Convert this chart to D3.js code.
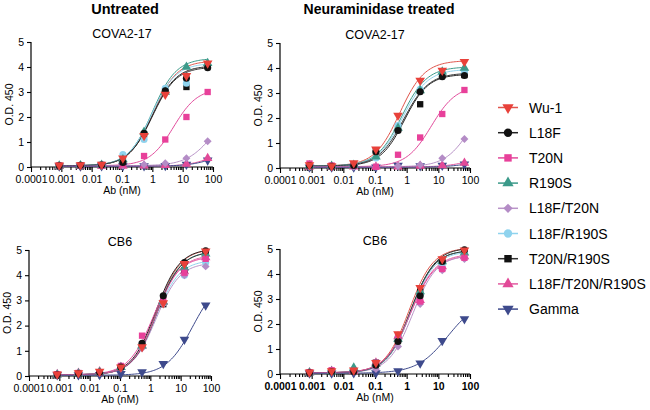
<!DOCTYPE html>
<html><head><meta charset="utf-8">
<script src="https://cdn.jsdelivr.net/npm/d3@7"></script>
<style>body{margin:0;background:#fff} svg{font-family:"Liberation Sans",Arial,sans-serif}</style>
</head><body><svg id="c" width="650" height="410"></svg>
<script>
// ---------- data ----------
const concentrations = [0.000853, 0.00427, 0.0213, 0.107, 0.533, 2.67, 13.3, 66.7];
const seriesNames = ["Wu-1","L18F","T20N","R190S","L18F/T20N","L18F/R190S","T20N/R190S","L18F/T20N/R190S","Gamma"];
const groupTitles = ["Untreated","Neuraminidase treated"];
const antibodyTitles = ["COVA2-17","CB6"];
const xTickValues = [0.0001,0.001,0.01,0.1,1,10,100];
const xTickLabels = ["0.0001","0.001","0.01","0.1","1","10","100"];
const yTickValues = [0,1,2,3,4,5];
const xAxisTitle = "Ab (nM)";
const yAxisTitle = "O.D. 450";

// O.D. 450 readings, one row per series (order of seriesNames)
const odCovaUntreated = [
  [0.07,0.08,0.10,0.35,1.25,2.90,3.65,4.15],
  [0.05,0.07,0.08,0.18,1.35,3.05,3.55,3.97],
  [0.06,0.07,0.08,0.10,0.44,1.10,2.00,3.00],
  [0.05,0.06,0.08,0.30,1.40,3.00,4.00,4.15],
  [0.04,0.05,0.05,0.06,0.10,0.15,0.35,1.03],
  [0.05,0.06,0.10,0.50,1.10,3.15,3.35,4.10],
  [0.05,0.06,0.08,0.25,1.30,3.05,3.20,4.05],
  [0.03,0.04,0.04,0.04,0.05,0.07,0.12,0.35],
  [0.03,0.03,0.04,0.04,0.04,0.05,0.10,0.27]
];
const odCovaNeuraminidase = [
  [0.12,0.08,0.20,0.75,2.10,3.50,3.90,4.25],
  [0.10,0.07,0.10,0.65,1.50,3.05,3.65,3.70],
  [0.18,0.10,0.10,0.05,0.53,1.22,2.16,3.12],
  [0.10,0.08,0.12,0.45,1.60,3.10,3.85,4.00],
  [0.05,0.05,0.05,0.05,0.08,0.13,0.39,1.16],
  [0.10,0.07,0.12,0.40,1.70,3.15,3.80,3.85],
  [0.08,0.06,0.10,0.70,1.55,2.55,3.72,3.72],
  [0.05,0.05,0.05,0.05,0.05,0.08,0.10,0.20],
  [0.03,0.03,0.03,0.03,0.10,0.08,0.10,0.15]
];
const odCb6Untreated = [
  [0.07,0.12,0.18,0.35,1.15,2.90,4.45,4.95],
  [0.05,0.10,0.15,0.35,1.30,3.18,4.50,4.97],
  [0.07,0.12,0.15,0.40,1.60,3.00,4.10,4.65],
  [0.05,0.10,0.15,0.35,1.20,2.95,4.30,4.85],
  [0.05,0.10,0.12,0.30,1.10,2.85,4.00,4.35],
  [0.05,0.10,0.15,0.35,1.20,2.90,4.00,4.50],
  [0.05,0.10,0.15,0.35,1.20,2.85,4.20,4.85],
  [0.07,0.12,0.18,0.35,1.20,2.95,4.15,4.70],
  [0.04,0.04,0.05,0.09,0.16,0.49,1.45,2.81]
];
const odCb6Neuraminidase = [
  [0.07,0.12,0.15,0.45,1.60,3.45,4.60,4.95],
  [0.05,0.10,0.10,0.35,1.30,3.13,4.50,4.97],
  [0.07,0.15,0.12,0.45,1.55,2.90,4.20,4.65],
  [0.05,0.10,0.25,0.40,1.40,3.30,4.50,4.85],
  [0.05,0.08,0.10,0.20,1.10,2.80,4.15,4.60],
  [0.05,0.10,0.12,0.40,1.35,3.20,4.40,4.80],
  [0.05,0.10,0.12,0.45,1.40,3.30,4.50,4.90],
  [0.06,0.12,0.12,0.45,1.50,2.95,4.30,4.70],
  [0.03,0.03,0.04,0.04,0.12,0.43,1.33,2.20]
];

// fitted 4-parameter logistic curves: [bottom, top, EC50 (nM), hill]
const fitCovaUntreated = [
  [0.05,4.25,1.05,1.1],[0.05,4.05,1.0,1.1],[0.05,3.15,5,1.1],[0.05,4.35,1.0,1.1],
  [0.05,2.5,100,1.0],[0.05,4.15,0.95,1.1],[0.05,4.0,1.0,1.1],[0.03,1.0,150,1.0],[0.03,0.8,150,1.0]
];
const fitCovaNeuraminidase = [
  [0.08,4.3,0.6,1.1],[0.08,3.75,0.85,1.15],[0.05,3.3,6,1.1],[0.08,4.05,0.7,1.1],
  [0.05,3.0,100,1.1],[0.08,3.95,0.75,1.1],[0.08,3.8,0.8,1.1],[0.04,0.8,200,1.0],[0.03,0.5,200,1.0]
];
const fitCb6Untreated = [
  [0.05,5.05,1.6,1.1],[0.05,5.05,1.5,1.1],[0.05,4.75,1.3,1.05],[0.05,4.95,1.6,1.1],
  [0.05,4.5,1.55,1.1],[0.05,4.6,1.5,1.1],[0.05,4.95,1.65,1.1],[0.05,4.8,1.55,1.1],[0.03,3.9,25,1.0]
];
const fitCb6Neuraminidase = [
  [0.05,5.05,1.2,1.15],[0.05,5.05,1.4,1.15],[0.05,4.75,1.3,1.1],[0.05,4.95,1.3,1.15],
  [0.05,4.75,1.55,1.15],[0.05,4.9,1.35,1.15],[0.05,4.95,1.3,1.15],[0.05,4.8,1.3,1.1],[0.03,3.0,20,0.9]
];

// ---------- styles ----------
const markerColors = ["#e8413a","#111111","#e8409a","#3c9a8a","#b48cc6","#8fd3ee","#111111","#e24a98","#3e4a8c"];
const lineColors   = ["#e0554c","#222222","#e24b9c","#3c9a8a","#b994c8","#8fd3ee","#333333","#e25aa0","#3e4a8c"];
const shapes = ["tdown","circle","square","tup","diamond","circle","square","tup","tdown"];

const panels = [
  {data: odCovaUntreated,      fit: fitCovaUntreated,      x0: 31,  x1: 213, yTop: 42,  yBot: 167, title: antibodyTitles[0], bold:false},
  {data: odCovaNeuraminidase,  fit: fitCovaNeuraminidase,  x0: 280, x1: 470, yTop: 43,  yBot: 168, title: antibodyTitles[0], bold:false},
  {data: odCb6Untreated,       fit: fitCb6Untreated,       x0: 29,  x1: 211, yTop: 250, yBot: 376, title: antibodyTitles[1], bold:false},
  {data: odCb6Neuraminidase,   fit: fitCb6Neuraminidase,   x0: 280, x1: 470, yTop: 249, yBot: 374, title: antibodyTitles[1], bold:true}
];

const svg = d3.select("#c");

function symbolPath(shape, size){
  const t = {tdown:d3.symbolTriangle, tup:d3.symbolTriangle, circle:d3.symbolCircle, square:d3.symbolSquare, diamond:d3.symbolDiamond2}[shape];
  return d3.symbol().type(t).size(size)();
}
function drawMarker(g, shape, cx, cy, color, size){
  g.append("path").attr("d", symbolPath(shape, size))
    .attr("transform", `translate(${cx},${cy})` + (shape==="tdown" ? " rotate(180)" : ""))
    .attr("fill", color);
}

// group titles
svg.append("text").attr("x",125).attr("y",14).attr("text-anchor","middle")
  .attr("font-size",14.5).attr("font-weight","bold").text(groupTitles[0]);
svg.append("text").attr("x",379).attr("y",14).attr("text-anchor","middle")
  .attr("font-size",14).attr("font-weight","bold").text(groupTitles[1]);

panels.forEach(p => {
  const x = d3.scaleLog().domain([1e-4,100]).range([p.x0,p.x1]);
  const y = d3.scaleLinear().domain([0,5]).range([p.yBot,p.yTop]);
  const g = svg.append("g");
  const cx = (p.x0+p.x1)/2;

  g.append("text").attr("x",cx).attr("y",p.yTop-4).attr("text-anchor","middle")
    .attr("font-size",12.5).text(p.title);

  // x axis
  const minor = [];
  for (let d=-4; d<2; d++) for (let m=2; m<10; m++) minor.push(m*Math.pow(10,d));
  const xa = g.append("g").attr("transform",`translate(0,${p.yBot})`)
    .call(d3.axisBottom(x).tickValues(xTickValues).tickSize(5).tickFormat((d,i)=>xTickLabels[i]));
  const xm = g.append("g").attr("transform",`translate(0,${p.yBot})`)
    .call(d3.axisBottom(x).tickValues(minor).tickSize(3).tickFormat(""));
  xm.select(".domain").remove();
  xa.selectAll("text").attr("font-size",10.5).attr("font-family","Liberation Sans, Arial, sans-serif")
    .attr("fill","#000").attr("dy","0.75em").attr("font-weight", p.bold ? "bold" : "normal");
  // y axis
  const ya = g.append("g").attr("transform",`translate(${p.x0},0)`)
    .call(d3.axisLeft(y).tickValues(yTickValues).tickSize(4).tickFormat(d3.format("d")));
  ya.selectAll("text").attr("font-size",10.5).attr("font-family","Liberation Sans, Arial, sans-serif").attr("fill","#000");
  [xa,xm,ya].forEach(a=>{ a.selectAll("line").attr("stroke","#000").attr("stroke-width",1.1);
    a.select(".domain").attr("stroke","#000").attr("stroke-width",1.2); });
  ya.select(".domain").attr("d", `M0,${p.yBot}V${p.yTop}`);
  ya.selectAll(".tick line").attr("x2",-4);
  xa.select(".domain").attr("d", `M${p.x0},0H${p.x1}`);

  // axis titles
  g.append("text").attr("x",cx).attr("y",p.yBot+27).attr("text-anchor","middle")
    .attr("font-size",10.5).text(xAxisTitle);
  g.append("text").attr("transform",`translate(${p.x0-18},${(p.yTop+p.yBot)/2}) rotate(-90)`)
    .attr("text-anchor","middle").attr("font-size",10.5).text(yAxisTitle);

  // fitted curves
  const lo = Math.log10(concentrations[0]), hi = Math.log10(concentrations[concentrations.length-1]);
  const xs = d3.range(0,101).map(i => Math.pow(10, lo + (hi-lo)*i/100));
  const line = d3.line().x(d=>x(d[0])).y(d=>y(d[1]));
  p.fit.forEach((f,si) => {
    const [b,t,e,h] = f;
    const pts = xs.map(c => [c, b + (t-b)/(1+Math.pow(e/c,h))]);
    g.append("path").attr("d", line(pts)).attr("fill","none")
      .attr("stroke", lineColors[si]).attr("stroke-width",1);
  });
  // points (draw Wu-1 last so it sits on top)
  d3.range(seriesNames.length).reverse().forEach(si => {
    p.data[si].forEach((v,i) => drawMarker(g, shapes[si], x(concentrations[i]), y(v), markerColors[si], 40));
  });
});

// legend
const lg = svg.append("g");
seriesNames.forEach((name,i) => {
  const yy = 107.5 + i*25.2;
  lg.append("line").attr("x1",498).attr("x2",518).attr("y1",yy).attr("y2",yy)
    .attr("stroke",lineColors[i]).attr("stroke-width",1.5);
  drawMarker(lg, shapes[i], 508, yy, markerColors[i], 55);
  lg.append("text").attr("x",529).attr("y",yy).attr("dy","0.36em")
    .attr("font-size",14).text(name);
});
</script></body></html>
